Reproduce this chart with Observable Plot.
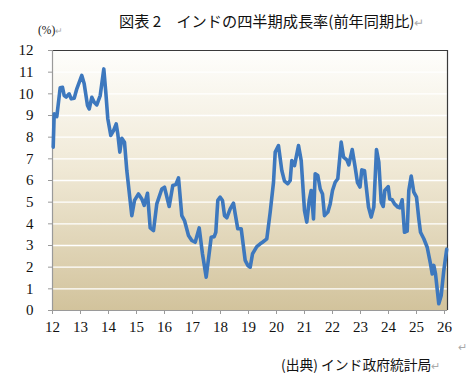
<!DOCTYPE html>
<html>
<head>
<meta charset="utf-8">
<script src="https://cdn.jsdelivr.net/npm/d3@7"></script>
<script src="https://cdn.jsdelivr.net/npm/@observablehq/plot@0.6"></script>
<style>
  html, body { margin: 0; padding: 0; background: #fff; }
  #wrap { position: relative; width: 472px; height: 384px; overflow: hidden; }
  #chart { position: absolute; left: 0; top: 0; }
  .txt { position: absolute; white-space: nowrap; font-family: "Noto Sans CJK JP", sans-serif; color: #111; }
  .ret { color: #aaa; font-size: 0.8em; }
</style>
</head>
<body>
<div id="wrap">
  <div id="chart"></div>
  <div class="txt" id="title" style="left:119px; top:9px; font-size:15.2px;">図表 2　インドの四半期成長率(前年同期比)<span class="ret">↵</span></div>
  <div class="txt" id="unit" style="left:38px; top:24px; font-size:11.5px; font-family:'Liberation Serif', serif;">(%)<span class="ret">↵</span></div>
  <div class="txt" id="caption" style="left:281px; top:354px; font-size:13.8px;">(出典) インド政府統計局<span class="ret">↵</span></div>
  <div class="txt" style="left:458px; top:338px; font-size:11px; color:#aaa;">↵</div>
</div>
<script>
// Decimal year positions (x) and growth rate in % (y)
const years = [
  12.025, 12.061, 12.154, 12.275, 12.357, 12.418, 12.489, 12.596, 12.668, 12.775, 12.868,
  13.046, 13.132, 13.25, 13.311, 13.404, 13.489, 13.582, 13.704, 13.832, 13.904, 13.975,
  14.082, 14.179, 14.275, 14.332, 14.404, 14.475, 14.571, 14.654, 14.832, 14.929,
  15.071, 15.189, 15.275, 15.393, 15.489, 15.607, 15.725, 15.904,
  16.0, 16.168, 16.296, 16.404, 16.5, 16.618, 16.714, 16.857, 16.975,
  17.096, 17.239, 17.357, 17.489, 17.668, 17.775, 17.832, 17.904, 17.989,
  18.071, 18.143, 18.225, 18.346, 18.464, 18.525, 18.618, 18.739, 18.882, 18.975,
  19.061, 19.143, 19.296, 19.418, 19.5, 19.654, 19.775, 19.893, 19.954,
  20.071, 20.189, 20.286, 20.404, 20.489, 20.546, 20.643, 20.786, 20.882,
  21.0, 21.082, 21.168, 21.239, 21.321, 21.382, 21.475, 21.561, 21.643, 21.714, 21.832, 21.918,
  22.0, 22.096, 22.189, 22.311, 22.393, 22.511, 22.582, 22.704, 22.804, 22.893, 22.982,
  23.046, 23.143, 23.214, 23.286, 23.382, 23.475, 23.571, 23.654, 23.739, 23.811, 23.868, 23.989,
  24.046, 24.132, 24.214, 24.332, 24.404, 24.489, 24.571, 24.668, 24.725, 24.811, 24.904,
  25.0, 25.082, 25.143, 25.261, 25.382, 25.5, 25.561, 25.618, 25.679, 25.796, 25.882, 25.975,
  26.079
];
const growth = [
  7.54, 9.08, 8.95, 10.28, 10.3, 9.92, 9.85, 10.0, 9.77, 9.8, 10.23,
  10.85, 10.46, 9.46, 9.3, 9.84, 9.61, 9.49, 9.92, 11.15, 10.07, 8.85,
  8.08, 8.3, 8.61, 8.15, 7.31, 7.95, 7.77, 6.46, 4.38, 5.08,
  5.38, 5.15, 4.85, 5.41, 3.81, 3.69, 4.92, 5.61,
  5.69, 4.8, 5.77, 5.81, 6.12, 4.38, 4.15, 3.46, 3.23,
  3.15, 3.81, 2.61, 1.54, 3.38, 3.41, 3.61, 5.08, 5.23,
  5.08, 4.38, 4.28, 4.69, 4.95, 4.46, 3.77, 3.77, 2.31, 2.08,
  2.0, 2.61, 2.95, 3.08, 3.15, 3.31, 4.54, 5.92, 7.31,
  7.61, 6.46, 5.97, 5.85, 6.0, 6.92, 6.69, 7.61, 6.92,
  4.61, 4.08, 5.08, 5.54, 4.23, 6.31, 6.23, 5.61, 5.38, 4.38, 4.54, 4.92,
  5.54, 5.92, 6.08, 7.77, 7.08, 6.95, 6.72, 7.43, 6.65, 5.9, 5.7,
  6.49, 6.45, 5.61, 4.77, 4.31, 4.77, 7.43, 6.85, 5.0, 4.8, 5.54, 5.72,
  5.14, 5.11, 4.92, 4.77, 4.74, 5.11, 3.61, 3.66, 5.54, 6.21, 5.46,
  5.23, 4.23, 3.61, 3.31, 2.92, 2.15, 1.69, 2.08, 1.69, 0.31, 0.69, 1.85,
  2.83
];
const xTicks = [12, 13, 14, 15, 16, 17, 18, 19, 20, 21, 22, 23, 24, 25, 26];
const yTicks = [0, 1, 2, 3, 4, 5, 6, 7, 8, 9, 10, 11, 12];

const data = years.map((x, i) => ({x, y: growth[i]}));
const xMax = 12 + 395 / 28;

const plot = Plot.plot({
  width: 472,
  height: 384,
  marginLeft: 52,
  marginRight: 25,
  marginTop: 50,
  marginBottom: 74,
  style: {fontFamily: "'Liberation Serif', serif", fontSize: "15px", color: "#111", background: "transparent"},
  x: {domain: [12, xMax]},
  y: {domain: [0, 12]},
  marks: [
    Plot.frame({fill: "url(#bgGrad)", stroke: null}),
    Plot.ruleY(yTicks.filter(d => d > 0 && d < 12), {stroke: "#ffffff", strokeWidth: 1.4}),
    Plot.ruleY([12], {stroke: "#3a3a3a", strokeWidth: 1.2}),
    Plot.ruleX([xMax], {stroke: "#3a3a3a", strokeWidth: 1.2}),
    Plot.ruleX([12], {stroke: "#9a9a9a", strokeWidth: 1.2}),
    Plot.ruleY([0], {stroke: "#9a9a9a", strokeWidth: 1.2}),
    Plot.axisY({ticks: yTicks, tickFormat: d => String(d), tickSize: 4, tickPadding: 15, stroke: "#9a9a9a", label: null}),
    Plot.axisX({ticks: xTicks, tickFormat: d => String(d), tickSize: 4, tickPadding: 7, stroke: "#9a9a9a", label: null}),
    Plot.line(data, {x: "x", y: "y", stroke: "#3d78be", strokeWidth: 3.6, strokeLinejoin: "round", strokeLinecap: "round"})
  ]
});

const ns = "http://www.w3.org/2000/svg";
const defs = document.createElementNS(ns, "defs");
const grad = document.createElementNS(ns, "linearGradient");
grad.setAttribute("id", "bgGrad");
grad.setAttribute("x1", "0"); grad.setAttribute("y1", "0");
grad.setAttribute("x2", "0"); grad.setAttribute("y2", "1");
[["0%", "#fefefc"], ["45%", "#f0e9d6"], ["100%", "#d2c39c"]].forEach(([o, c]) => {
  const s = document.createElementNS(ns, "stop");
  s.setAttribute("offset", o);
  s.setAttribute("stop-color", c);
  grad.appendChild(s);
});
defs.appendChild(grad);
plot.insertBefore(defs, plot.firstChild);
document.getElementById("chart").appendChild(plot);
</script>
</body>
</html>
